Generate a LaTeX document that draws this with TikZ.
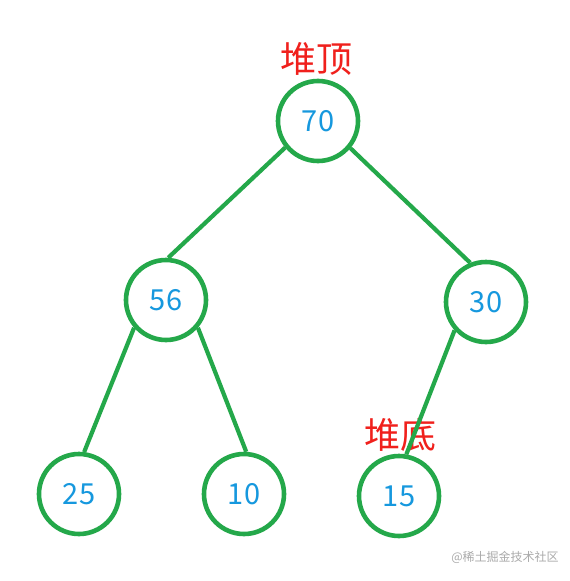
\documentclass[tikz,border=0pt]{standalone}
\usepackage{fontspec}
\setmainfont{Noto Sans CJK SC}
\usepackage{tikz}
\usepackage{xcolor}
\definecolor{heapgreen}{RGB}{36, 168, 74}
\definecolor{heapblue}{RGB}{22, 152, 222}
\definecolor{heapred}{RGB}{240, 32, 28}
\definecolor{markgray}{RGB}{170, 170, 170}

\begin{document}
\begin{tikzpicture}[x=1pt, y=-1pt,
    heapnode/.style={circle, draw=heapgreen, line width=4.6pt, minimum size=80pt,
      inner sep=0pt, text=heapblue, font=\fontsize{29}{29}\selectfont},
    heaplabel/.style={text=heapred, font=\fontsize{36}{36}\selectfont},
    heapedge/.style={draw=heapgreen, line width=4.2pt}]
    \useasboundingbox[fill=white] (0,0) rectangle (570,581);

    \node[heapnode] (n70) at (318,121) {70};
    \node[heapnode] (n56) at (166,300) {56};
    \node[heapnode] (n30) at (486,302) {30};
    \node[heapnode] (n25) at (79,494)  {25};
    \node[heapnode] (n10) at (244,494) {10};
    \node[heapnode] (n15) at (399,496) {15};

    \node[heaplabel] (top) at (316,59)  {堆顶};
    \node[heaplabel] (bottom) at (400,435) {堆底};

    \draw[heapedge] (n70.219) -- (n56.87);
    \draw[heapedge] (n70.320) -- (n30.112);
    \draw[heapedge] (n56.221) -- (n25.83);
    \draw[heapedge] (n56.319) -- (n10.87);
    \draw[heapedge] (n30.222) -- (n15.80);

    \node[text=markgray, font=\fontsize{12}{12}\selectfont] (mark) at (505,557) {@稀土掘金技术社区};
  \end{tikzpicture}
\end{document}
